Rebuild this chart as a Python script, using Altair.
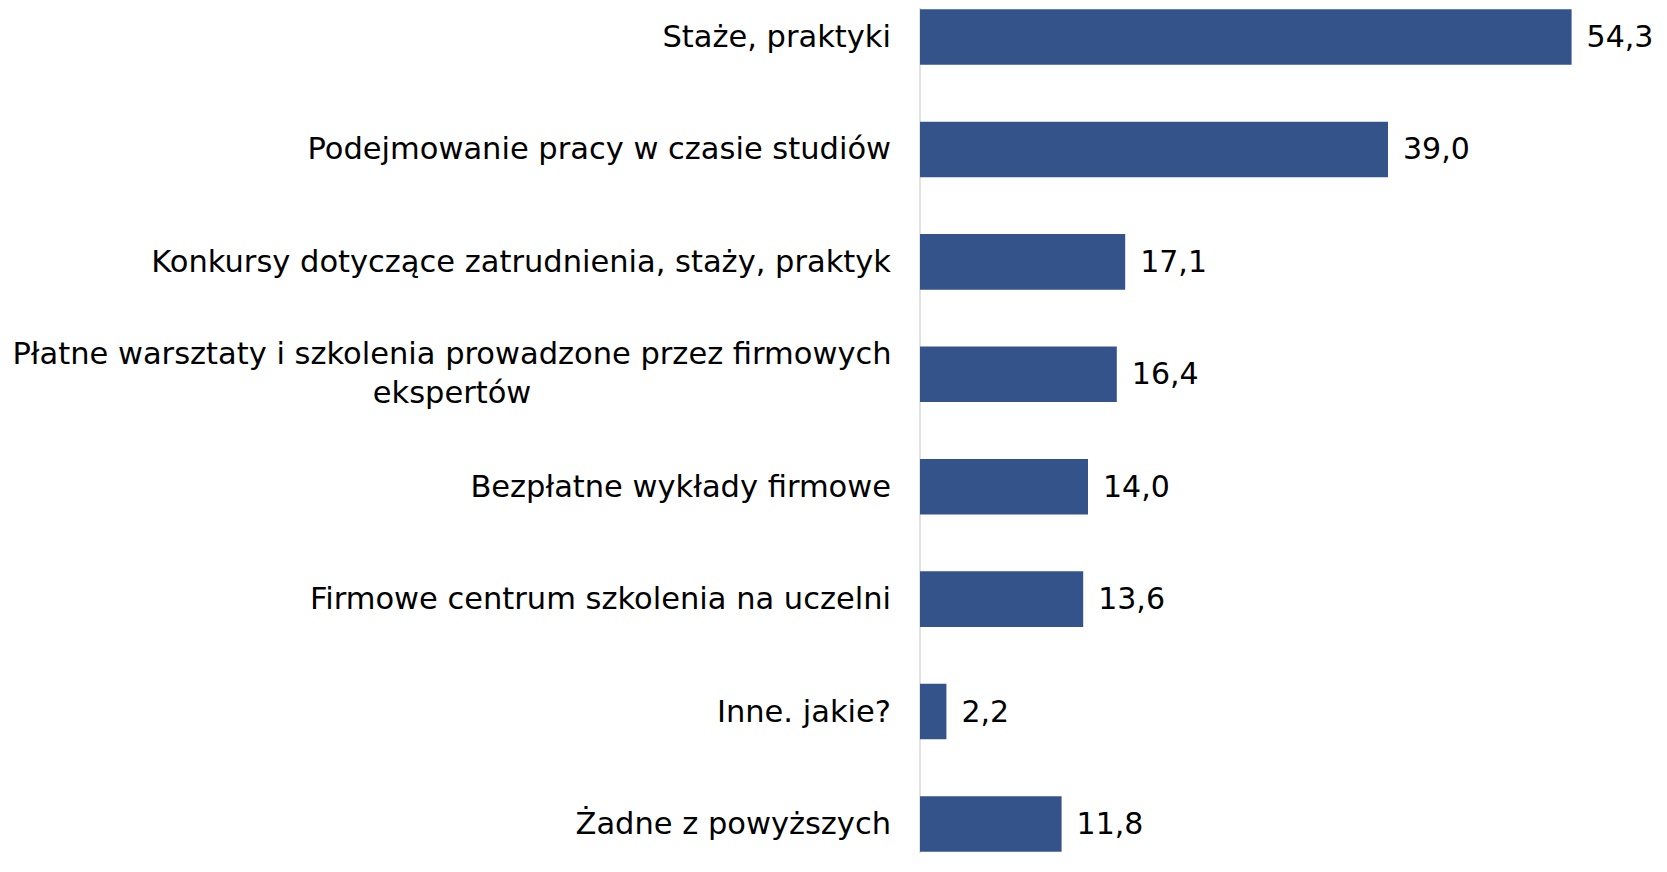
import altair as alt
import pandas as pd

categories = [
    "Staże, praktyki",
    "Podejmowanie pracy w czasie studiów",
    "Konkursy dotyczące zatrudnienia, staży, praktyk",
    "Płatne warsztaty i szkolenia prowadzone przez firmowych\nekspertów",
    "Bezpłatne wykłady firmowe",
    "Firmowe centrum szkolenia na uczelni",
    "Inne. jakie?",
    "Żadne z powyższych",
]
values = [54.3, 39.0, 17.1, 16.4, 14.0, 13.6, 2.2, 11.8]
value_labels = ["54,3", "39,0", "17,1", "16,4", "14,0", "13,6", "2,2", "11,8"]

df = pd.DataFrame({
    "cat": categories,
    "val": values,
    "lab": value_labels,
    "multi": ["\n" in c for c in categories],
})

FONT = "DejaVu Sans"
BAR = "#34538A"

y = alt.Y("cat:N", sort=None, axis=None,
          scale=alt.Scale(paddingInner=0.506, paddingOuter=0.011))
x = alt.X("val:Q", axis=None, scale=alt.Scale(domain=[0, 56]))

base = alt.Chart(df)

bars = base.mark_bar(color=BAR).encode(x=x, y=y)

vals = base.mark_text(align="left", baseline="middle", dx=15, dy=1,
                      font=FONT, fontSize=30, color="#000000").encode(
    x=x, y=y, text="lab:N")

single = base.transform_filter("!datum.multi").mark_text(
    align="right", baseline="middle", dx=-29, dy=1, font=FONT, fontSize=30.5,
    color="#000000").encode(x=alt.value(0), y=y, text="cat:N")

multi = base.transform_filter("datum.multi").mark_text(
    align="center", baseline="middle", dx=-468, dy=-19, lineBreak="\n",
    lineHeight=39, font=FONT, fontSize=30.5, color="#000000").encode(
    x=alt.value(0), y=y, text="cat:N")

axis_line = alt.Chart(pd.DataFrame({"a": [0]})).mark_rule(
    color="#D9D9D9", strokeWidth=1.5).encode(
    x=alt.value(0), y=alt.value(-10), y2=alt.value(880))

chart = alt.layer(axis_line, bars, vals, single, multi).properties(
    width=672, height=845,
    autosize=alt.AutoSizeParams(type="none"),
    padding={"left": 912, "top": 0, "right": 66, "bottom": 0},
).configure_view(stroke=None)

chart.save("out.html", embed_options={"renderer": "svg", "actions": False})
